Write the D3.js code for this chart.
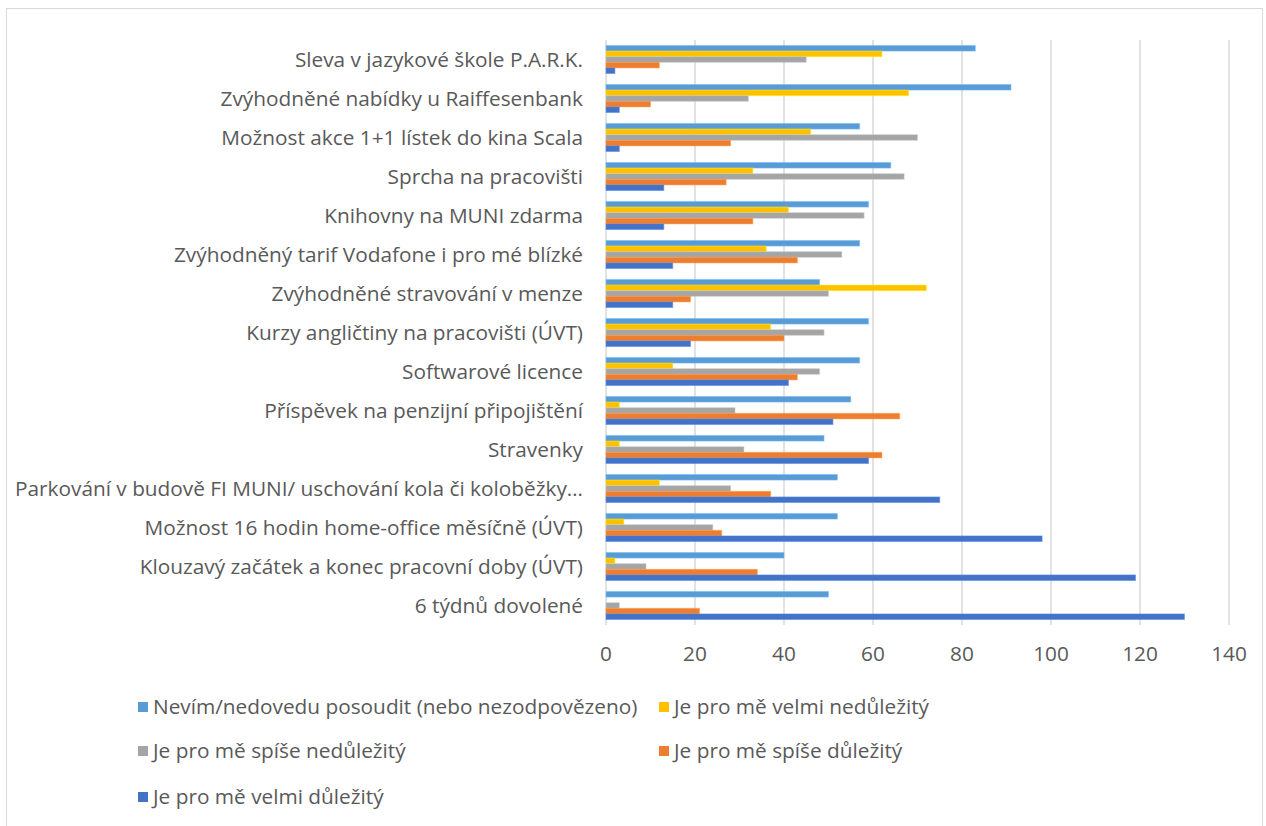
<!DOCTYPE html>
<html>
<head>
<meta charset="utf-8">
<script src="https://cdn.jsdelivr.net/npm/d3@7"></script>
<style>
  body { margin: 0; background: #fff; }
  text { font-family: "Open Sans", Lato, sans-serif; fill: #595959; }
</style>
</head>
<body>
<svg id="chart"></svg>
<script>
// categories, top to bottom
let categories = [
  "Sleva v jazykové škole P.A.R.K.",
  "Zvýhodněné nabídky u Raiffesenbank",
  "Možnost akce 1+1 lístek do kina Scala",
  "Sprcha na pracovišti",
  "Knihovny na MUNI zdarma",
  "Zvýhodněný tarif Vodafone i pro mé blízké",
  "Zvýhodněné stravování v menze",
  "Kurzy angličtiny na pracovišti (ÚVT)",
  "Softwarové licence",
  "Příspěvek na penzijní připojištění",
  "Stravenky",
  "Parkování v budově FI MUNI/ uschování kola či koloběžky…",
  "Možnost 16 hodin home-office měsíčně (ÚVT)",
  "Klouzavý začátek a konec pracovní doby (ÚVT)",
  "6 týdnů dovolené"
];

let seriesNames = [
  "Nevím/nedovedu posoudit (nebo nezodpovězeno)",
  "Je pro mě velmi nedůležitý",
  "Je pro mě spíše nedůležitý",
  "Je pro mě spíše důležitý",
  "Je pro mě velmi důležitý"
];

let nevim         = [83, 91, 57, 64, 59, 57, 48, 59, 57, 55, 49, 52, 52, 40, 50];
let velmiNedul    = [62, 68, 46, 33, 41, 36, 72, 37, 15, 3, 3, 12, 4, 2, 0];
let spiseNedul    = [45, 32, 70, 67, 58, 53, 50, 49, 48, 29, 31, 28, 24, 9, 3];
let spiseDul      = [12, 10, 28, 27, 33, 43, 19, 40, 43, 66, 62, 37, 26, 34, 21];
let velmiDul      = [2, 3, 3, 13, 13, 15, 15, 19, 41, 51, 59, 75, 98, 119, 130];

let xTicks = [0, 20, 40, 60, 80, 100, 120, 140];

let seriesValues = [nevim, velmiNedul, spiseNedul, spiseDul, velmiDul];
let colors = ["#5B9BD5", "#FFC000", "#A5A5A5", "#ED7D31", "#4472C4"];

const W = 1266, H = 826;
const FS = 20.8;
let svg = d3.select('#chart').attr('width', W).attr('height', H);

// outer frame
svg.append('rect')
  .attr('x', 6.5).attr('y', 8.5).attr('width', W - 10).attr('height', H)
  .attr('fill', 'none').attr('stroke', '#D9D9D9').attr('stroke-width', 1);

let plot = {left: 606, right: 1229, top: 40, bottom: 625};

let scX = d3.scaleLinear().domain([0, 140]).range([plot.left, plot.right]);
let scY = d3.scaleBand().domain(categories).range([plot.top, plot.bottom]).paddingInner(0.28).paddingOuter(0.14);
let scSub = d3.scaleBand().domain(d3.range(seriesNames.length)).range([0, scY.bandwidth()]);

// gridlines
svg.append('g').selectAll('line')
  .data(xTicks).enter().append('line')
  .attr('x1', d => scX(d)).attr('x2', d => scX(d))
  .attr('y1', plot.top).attr('y2', plot.bottom)
  .attr('stroke', '#D9D9D9').attr('stroke-width', 1.5);

// bars
let rows = categories.map((c, i) => ({cat: c, vals: seriesValues.map((s, k) => ({k: k, v: s[i]}))}));

let groups = svg.append('g').selectAll('g')
  .data(rows).enter().append('g')
  .attr('transform', d => `translate(0,${scY(d.cat)})`);

groups.selectAll('rect')
  .data(d => d.vals).enter().append('rect')
  .attr('x', scX(0))
  .attr('y', d => scSub(d.k))
  .attr('width', d => scX(d.v) - scX(0))
  .attr('height', scSub.bandwidth())
  .attr('fill', d => colors[d.k])
  .attr('stroke', d => d.v > 0 ? d3.color(colors[d.k]).brighter(0.6) : 'none')
  .attr('stroke-opacity', 0.5).attr('stroke-width', 1);

// category labels
svg.append('g').selectAll('text')
  .data(categories).enter().append('text')
  .attr('x', 583).attr('y', d => scY(d) + scY.bandwidth() / 2)
  .attr('dy', '0.35em').attr('text-anchor', 'end')
  .attr('font-size', FS)
  .text(d => d);

// x axis labels
svg.append('g').selectAll('text')
  .data(xTicks).enter().append('text')
  .attr('x', d => scX(d)).attr('y', 654)
  .attr('dy', '0.35em').attr('text-anchor', 'middle')
  .attr('font-size', FS)
  .text(d => d);

// legend
let legendPos = [[138, 707], [659, 707], [138, 751], [659, 751], [138, 797]];
let leg = svg.append('g').selectAll('g')
  .data(seriesNames).enter().append('g')
  .attr('transform', (d, i) => `translate(${legendPos[i][0]},${legendPos[i][1]})`);
leg.append('rect')
  .attr('x', 0).attr('y', -5).attr('width', 10).attr('height', 10)
  .attr('fill', (d, i) => colors[i]);
leg.append('text')
  .attr('x', 15).attr('dy', '0.35em')
  .attr('font-size', FS)
  .text(d => d);
</script>
</body>
</html>
